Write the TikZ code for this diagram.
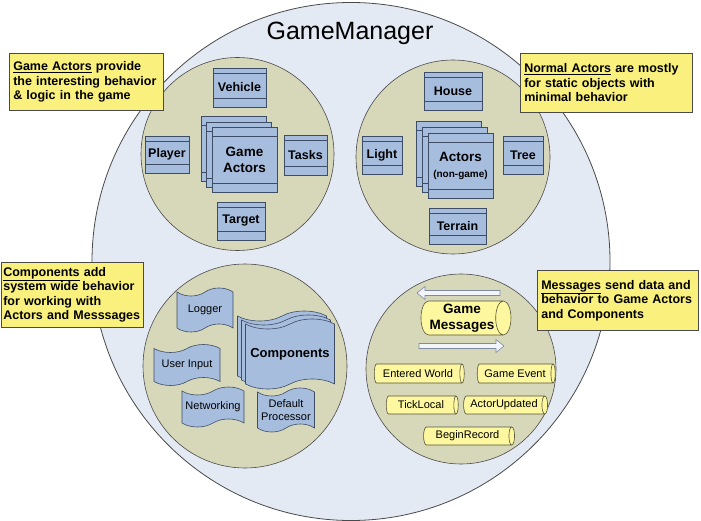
\documentclass[tikz,border=0pt]{standalone}
\usepackage{fontspec}
\setmainfont{Liberation Sans}
\usetikzlibrary{shapes.symbols,shapes.geometric,shapes.arrows}
\definecolor{bgc}{HTML}{E4EAF4}
\definecolor{olivec}{HTML}{D7D8BA}
\definecolor{boxc}{HTML}{A7BDDE}
\definecolor{boxl}{HTML}{3E4C66}
\definecolor{notec}{HTML}{F9F07E}
\definecolor{cylc}{HTML}{FDF7A0}
\definecolor{cyll}{HTML}{55553A}
\definecolor{linec}{HTML}{4A4A4A}
\definecolor{arrf}{HTML}{F2F5FA}
\definecolor{arrl}{HTML}{7F8CA0}
\tikzset{
  bigc/.style={circle, draw=linec, fill=bgc, line width=0.8pt, inner sep=0pt},
  subc/.style={circle, draw=linec, fill=olivec, line width=0.6pt, inner sep=0pt},
  uml/.style={draw=boxl, fill=boxc, line width=0.6pt, inner sep=0pt,
    font=\fontsize{12.5}{14}\selectfont\bfseries,
    path picture={
      \draw[boxl, line width=0.6pt] ([yshift=-5pt]path picture bounding box.north west) -- ([yshift=-5pt]path picture bounding box.north east);
      \draw[boxl, line width=0.6pt] ([yshift=9pt]path picture bounding box.south west) -- ([yshift=9pt]path picture bounding box.south east);
    }},
  umlbig/.style={draw=boxl, fill=boxc, line width=0.6pt, inner sep=0pt, align=center,
    minimum width=65pt, minimum height=65pt,
    font=\fontsize{13.5}{16}\selectfont\bfseries,
    path picture={
      \draw[boxl, line width=0.6pt] ([yshift=-9pt]path picture bounding box.north west) -- ([yshift=-9pt]path picture bounding box.north east);
      \draw[boxl, line width=0.6pt] ([yshift=9pt]path picture bounding box.south west) -- ([yshift=9pt]path picture bounding box.south east);
    }},
  tapebox/.style={shape=tape, draw=boxl, fill=boxc, line width=0.6pt,
    tape bend top=in and out, tape bend bottom=in and out, tape bend height=8pt,
    inner sep=1pt, align=center, font=\fontsize{11}{13}\selectfont},
  msg/.style={shape=cylinder, aspect=0.55, draw=cyll, fill=cylc, line width=0.6pt,
    inner sep=0pt, align=center, font=\fontsize{11}{13}\selectfont},
  blockarrow/.style={draw=arrl, fill=arrf, line width=0.6pt, line join=miter},
  note/.style={draw=linec, fill=notec, line width=0.6pt, align=left, anchor=north west,
    inner sep=4pt, font=\fontsize{12.5}{14.5}\selectfont\bfseries}
}
\begin{document}
\begin{tikzpicture}[x=1pt,y=-1pt]
\useasboundingbox (0,0) rectangle (701,521);
% main circle
\node[bigc, minimum size=518pt] (gm) at (351,261.5) {};
\node[font=\fontsize{25}{30}\selectfont] (title) at (350,33) {GameManager};
% sub circles
\node[subc, minimum size=193pt] (cga) at (237.5,154) {};
\node[subc, minimum size=194pt] (cna) at (453,157) {};
\node[subc, minimum size=204pt] (ccp) at (245,366) {};
\node[subc, minimum size=190pt] (cms) at (461,369) {};
% game actors
\node[uml, minimum width=53pt, minimum height=39pt] (veh) at (239.5,87.5) {Vehicle};
\node[uml, minimum width=44pt, minimum height=37pt] (ply) at (167,154.5) {Player};
\node[uml, minimum width=43pt, minimum height=40pt] (tsk) at (305.5,155) {Tasks};
\node[uml, minimum width=48pt, minimum height=38pt] (tgt) at (241,221) {Target};
\node[umlbig] (ga1) at (233.5,149) {};
\node[umlbig] (ga2) at (239,154.5) {};
\node[umlbig] (ga3) at (244.5,160) {Game\\Actors};
% normal actors
\node[uml, minimum width=58pt, minimum height=38pt] (hse) at (453,91) {House};
\node[uml, minimum width=40pt, minimum height=38pt] (lgt) at (382,155) {Light};
\node[uml, minimum width=40pt, minimum height=38pt] (tre) at (523,155) {Tree};
\node[uml, minimum width=57pt, minimum height=36pt] (ter) at (457.5,226) {Terrain};
\node[umlbig] (na1) at (449,154) {};
\node[umlbig] (na2) at (454.75,159.75) {};
\node[umlbig] (na3) at (460.5,165.5) {Actors\\{\fontsize{10}{12}\selectfont (non-game)}};
% components
\node[tapebox, minimum width=56pt, minimum height=44pt] (log) at (205,310) {Logger};
\node[tapebox, minimum width=66pt, minimum height=41pt] (uin) at (187,365) {User Input};
\node[tapebox, minimum width=62pt, minimum height=40pt] (net) at (213,407) {Networking};
\node[tapebox, minimum width=57pt, minimum height=44pt] (dpr) at (286,410) {Default\\Processor};
\node[tapebox, tape bend height=10pt, minimum width=89pt, minimum height=70pt] (cp1) at (282,346) {};
\node[tapebox, tape bend height=10pt, minimum width=89pt, minimum height=70pt] (cp2) at (286,350) {};
\node[tapebox, tape bend height=10pt, minimum width=89pt, minimum height=70pt, font=\fontsize{13}{15}\selectfont\bfseries] (cp3) at (290,354) {Components};
% messages
\draw[blockarrow] (417,293) -- (425,286.5) -- (425,290.5) -- (500,290.5) -- (500,295.5) -- (425,295.5) -- (425,299.5) -- cycle;
\node[msg, minimum height=90pt, minimum width=34pt, font=\fontsize{13.5}{15.5}\selectfont\bfseries] (gms) at (462,318) {Game\\Messages};
\draw[blockarrow] (504,346) -- (496,339.5) -- (496,343.5) -- (419,343.5) -- (419,348.5) -- (496,348.5) -- (496,352.5) -- cycle;
\node[msg, minimum height=90pt, minimum width=19pt] (ew) at (418,373.5) {Entered World};
\node[msg, minimum height=78pt, minimum width=19pt] (gev) at (515,373.5) {Game Event};
\node[msg, minimum height=72pt, minimum width=18pt] (tl) at (421,405) {TickLocal};
\node[msg, minimum height=84pt, minimum width=18pt] (au) at (504,405) {ActorUpdated};
\node[msg, minimum height=91pt, minimum width=18pt] (br) at (467.5,436) {BeginRecord};
% notes
\node[note, text width=146pt, minimum height=57pt] (n1) at (9,53) {\underline{Game Actors} provide\\the interesting behavior\\\& logic in the game};
\node[note, text width=164pt, minimum height=59pt] (n2) at (520,53) {\underline{Normal Actors} are mostly\\for static objects with\\minimal behavior};
\node[note, text width=138pt, minimum height=65pt, inner sep=2pt] (n3) at (1,262) {\underline{Components} add\\system wide behavior\\for working with\\Actors and Messsages};
\node[note, text width=153pt, minimum height=60pt] (n4) at (537,270) {\underline{Messages} send data and\\behavior to Game Actors\\and Components};
\end{tikzpicture}
\end{document}
